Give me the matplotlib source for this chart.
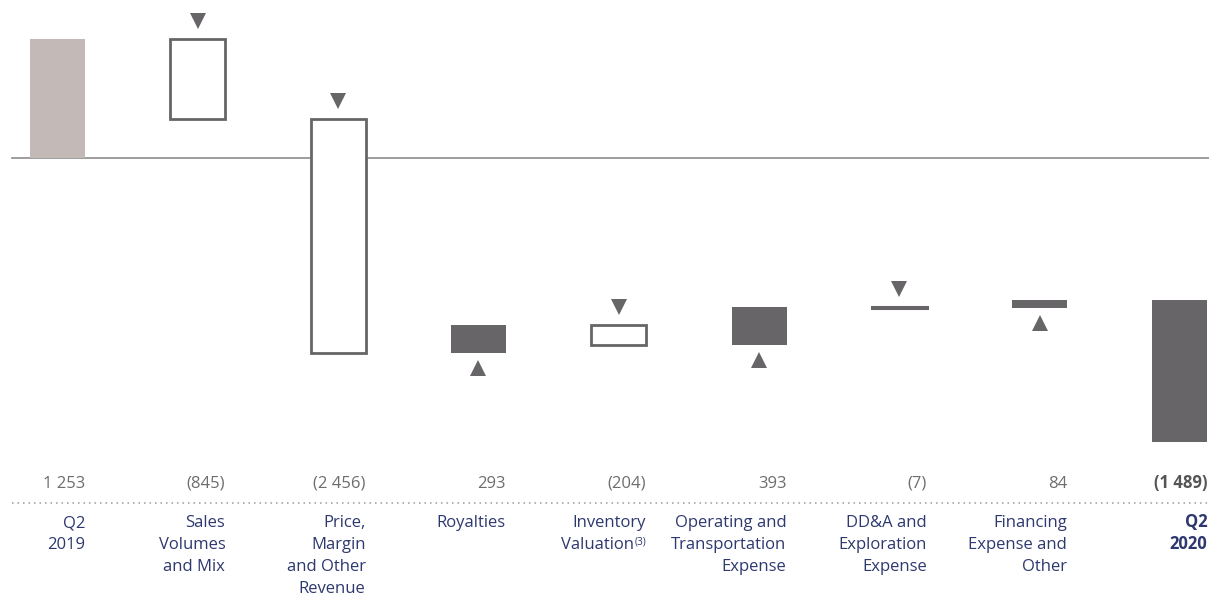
import matplotlib
matplotlib.use("Agg")
import matplotlib.pyplot as plt
import matplotlib.transforms as mtransforms
from matplotlib.patches import Rectangle

plt.rcParams['font.family'] = ['Open Sans', 'DejaVu Sans']

# ---- data ----
categories = ["Q2\n2019", "Sales\nVolumes\nand Mix", "Price,\nMargin\nand Other\nRevenue",
              "Royalties", "Inventory\nValuation",
              "Operating and\nTransportation\nExpense", "DD&A and\nExploration\nExpense",
              "Financing\nExpense and\nOther", "Q2\n2020"]
footnotes = {4: "(3)"}
changes = [1253, -845, -2456, 293, -204, 393, -7, 84]
final_total = -1489
value_labels = ["1 253", "(845)", "(2 456)", "293", "(204)", "393", "(7)", "84", "(1 489)"]

# ---- style ----
START_COLOR = "#c3bab7"
DARK = "#676567"
AXIS_GRAY = "#8c8c8c"
VALUE_GRAY = "#6d6d6d"
NAVY = "#2d386f"
FS = 12.0

W, H = 1209, 595
fig = plt.figure(figsize=(W / 100, H / 100), dpi=100)
ax = fig.add_axes([0, 0, 1, 1])
ax.axis("off")

# geometry: slot pitch and vertical scale (pixels per unit)
pitch = 140.3
x0_px = 57.5
zero_px = 158
k = 0.0953
bar_w = 55 / pitch

ax.set_xlim(-x0_px / pitch, (W - x0_px) / pitch)
ax.set_ylim(-(H - zero_px) / k, zero_px / k)


def ypx(p):
    """pixel row (from top) -> data value"""
    return -(p - zero_px) / k


def xpx(p):
    return (p - x0_px) / pitch


# starting bar
ax.add_patch(Rectangle((0 - bar_w / 2, 0), bar_w, changes[0],
                       facecolor=START_COLOR, edgecolor="none", zorder=2))

running = changes[0]
down_off = mtransforms.offset_copy(ax.transData, fig=fig, x=0, y=13, units="points")
up_off = mtransforms.offset_copy(ax.transData, fig=fig, x=0, y=-11, units="points")
for i, c in enumerate(changes[1:], start=1):
    lo, hi = sorted([running, running + c])
    if c < 0:
        if abs(c) < 30:
            ax.add_patch(Rectangle((i - bar_w / 2, lo), bar_w, hi - lo,
                                   facecolor=DARK, edgecolor=DARK, linewidth=2.2, zorder=3))
        else:
            ax.add_patch(Rectangle((i - bar_w / 2, lo), bar_w, hi - lo,
                                   facecolor="white", edgecolor=DARK, linewidth=2.0, zorder=3))
        ax.plot(i, hi, marker="v", markersize=11.5, color=DARK, markeredgewidth=0,
                transform=down_off, zorder=4)
    else:
        ax.add_patch(Rectangle((i - bar_w / 2, lo), bar_w, hi - lo,
                               facecolor=DARK, edgecolor="none", zorder=3))
        ax.plot(i, lo, marker="^", markersize=11.5, color=DARK, markeredgewidth=0,
                transform=up_off, zorder=4)
    running += c

# ending bar hangs from the closing total
n = len(categories) - 1
ax.add_patch(Rectangle((n - bar_w / 2, final_total + final_total), bar_w, -final_total,
                       facecolor=DARK, edgecolor="none", zorder=2))

# zero line and dotted separator
ax.plot([xpx(12), xpx(1209)], [0, 0], color=AXIS_GRAY, linewidth=1.2, zorder=1)
ax.plot([xpx(12), xpx(1209)], [ypx(503), ypx(503)], color="#9a9a9a",
        linewidth=1.1, linestyle=(0, (1, 2.6)), zorder=1)

# value row and category labels (one text per line, right-aligned to bar edge)
first_base = 527
line_step = 22.1
for i, (lab, val) in enumerate(zip(categories, value_labels)):
    bold = i == n
    weight = "bold" if bold else "normal"
    xr = i + bar_w / 2
    ax.text(xr, ypx(488), val, ha="right", va="baseline", fontsize=FS,
            color="#555555" if bold else VALUE_GRAY, fontweight=weight)
    lines = lab.split("\n")
    for j, line in enumerate(lines):
        yb = ypx(first_base + line_step * j)
        if i in footnotes and j == len(lines) - 1:
            sup = ax.text(xr, ypx(first_base + line_step * j - 5), footnotes[i], ha="right",
                          va="baseline", fontsize=7.2, color=NAVY)
            ax.annotate(line, xy=(0, yb), xycoords=(sup, "data"), ha="right",
                        va="baseline", fontsize=FS, color=NAVY, fontweight=weight)
        else:
            ax.text(xr, yb, line, ha="right", va="baseline", fontsize=FS,
                    color=NAVY, fontweight=weight)

fig.savefig("out.png", dpi=100)
